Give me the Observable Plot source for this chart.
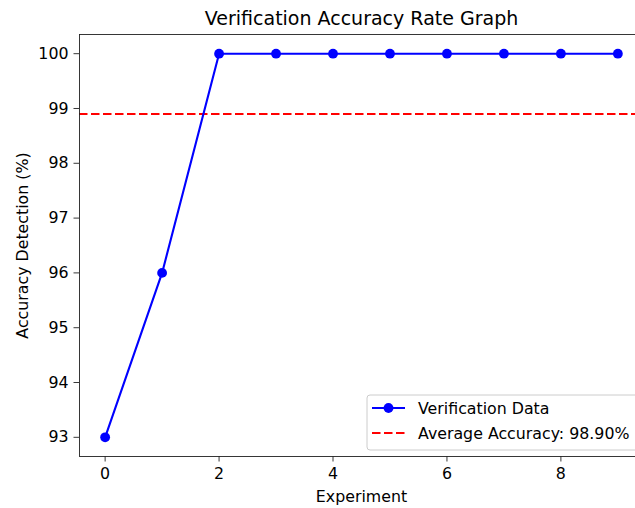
<!DOCTYPE html>
<html>
<head>
<meta charset="utf-8">
<script src="https://cdn.jsdelivr.net/npm/d3@7"></script>
<script src="https://cdn.jsdelivr.net/npm/@observablehq/plot@0.6"></script>
<style>
  html, body { margin: 0; padding: 0; background: #fff; }
  #chart { position: relative; width: 635px; height: 508px; overflow: hidden; }
</style>
</head>
<body>
<div id="chart"></div>
<script>
const experiments = [0, 1, 2, 3, 4, 5, 6, 7, 8, 9];
const accuracy = [93, 96, 100, 100, 100, 100, 100, 100, 100, 100];
const averageAccuracy = 98.9;
const xTicks = [0, 2, 4, 6, 8];
const yTicks = [93, 94, 95, 96, 97, 98, 99, 100];
const titleText = "Verification Accuracy Rate Graph";
const xLabel = "Experiment";
const yLabel = "Accuracy Detection (%)";
const seriesLabel = "Verification Data";
const avgLabel = `Average Accuracy: ${averageAccuracy.toFixed(2)}%`;

const data = experiments.map((e, i) => ({experiment: e, accuracy: accuracy[i]}));
const font = "DejaVu Sans, sans-serif";
const fs = 15.8;

const plot = Plot.plot({
  width: 635,
  height: 508,
  marginTop: 34,
  marginBottom: 52,
  marginLeft: 79,
  marginRight: -8,
  style: {fontFamily: font, fontSize: fs + "px", color: "#000", background: "#fff", overflow: "visible"},
  x: {domain: [-0.45, 9.45]},
  y: {domain: [92.65, 100.35]},
  marks: [
    Plot.ruleY([averageAccuracy], {stroke: "#ff0000", strokeWidth: 2.1, strokeDasharray: "8.5,3.5"}),
    Plot.line(data, {x: "experiment", y: "accuracy", stroke: "#0000ff", strokeWidth: 2.1}),
    Plot.dot(data, {x: "experiment", y: "accuracy", r: 4.9, fill: "#0000ff", stroke: "none"}),
    Plot.axisX(xTicks, {tickSize: 5.5, tickPadding: 5.5, fontSize: fs, label: null, stroke: "#222", strokeWidth: 0.9, fill: "#000", tickFormat: d => String(d)}),
    Plot.axisY(yTicks, {tickSize: 5.5, tickPadding: 5.5, fontSize: fs, label: null, stroke: "#222", strokeWidth: 0.9, fill: "#000", tickFormat: d => String(d)}),
    Plot.frame({stroke: "#222", strokeWidth: 0.9}),
    Plot.text([titleText], {frameAnchor: "top", dy: -16, fontSize: 19, fill: "#000", lineAnchor: "middle"}),
    Plot.text([xLabel], {frameAnchor: "bottom", dy: 40, fontSize: fs, fill: "#000", lineAnchor: "middle"}),
    Plot.text([yLabel], {frameAnchor: "left", dx: -57, rotate: -90, textAnchor: "middle", fontSize: fs, fill: "#000", lineAnchor: "middle"})
  ]
});

document.getElementById("chart").appendChild(plot);

// Legend drawn inside the SVG
const svg = d3.select(plot);
const lg = svg.append("g").attr("transform", "translate(367,395)")
  .attr("text-anchor", "start")
  .style("font-family", font).style("font-size", fs + "px");
lg.append("rect").attr("x", 0).attr("y", 0).attr("width", 300).attr("height", 55).attr("rx", 3)
  .attr("fill", "#fff").attr("fill-opacity", 0.8).attr("stroke", "#cccccc").attr("stroke-width", 1);
lg.append("line").attr("x1", 5).attr("x2", 38).attr("y1", 13).attr("y2", 13).attr("stroke", "#0000ff").attr("stroke-width", 2.1);
lg.append("circle").attr("cx", 21.5).attr("cy", 13).attr("r", 4.9).attr("fill", "#0000ff");
lg.append("text").attr("x", 51).attr("y", 13).attr("dy", "0.35em").attr("fill", "#000").text(seriesLabel);
lg.append("line").attr("x1", 5).attr("x2", 38).attr("y1", 38).attr("y2", 38).attr("stroke", "#ff0000").attr("stroke-width", 2.1).attr("stroke-dasharray", "8.5,3.5");
lg.append("text").attr("x", 51).attr("y", 38).attr("dy", "0.35em").attr("fill", "#000").text(avgLabel);
</script>
</body>
</html>
